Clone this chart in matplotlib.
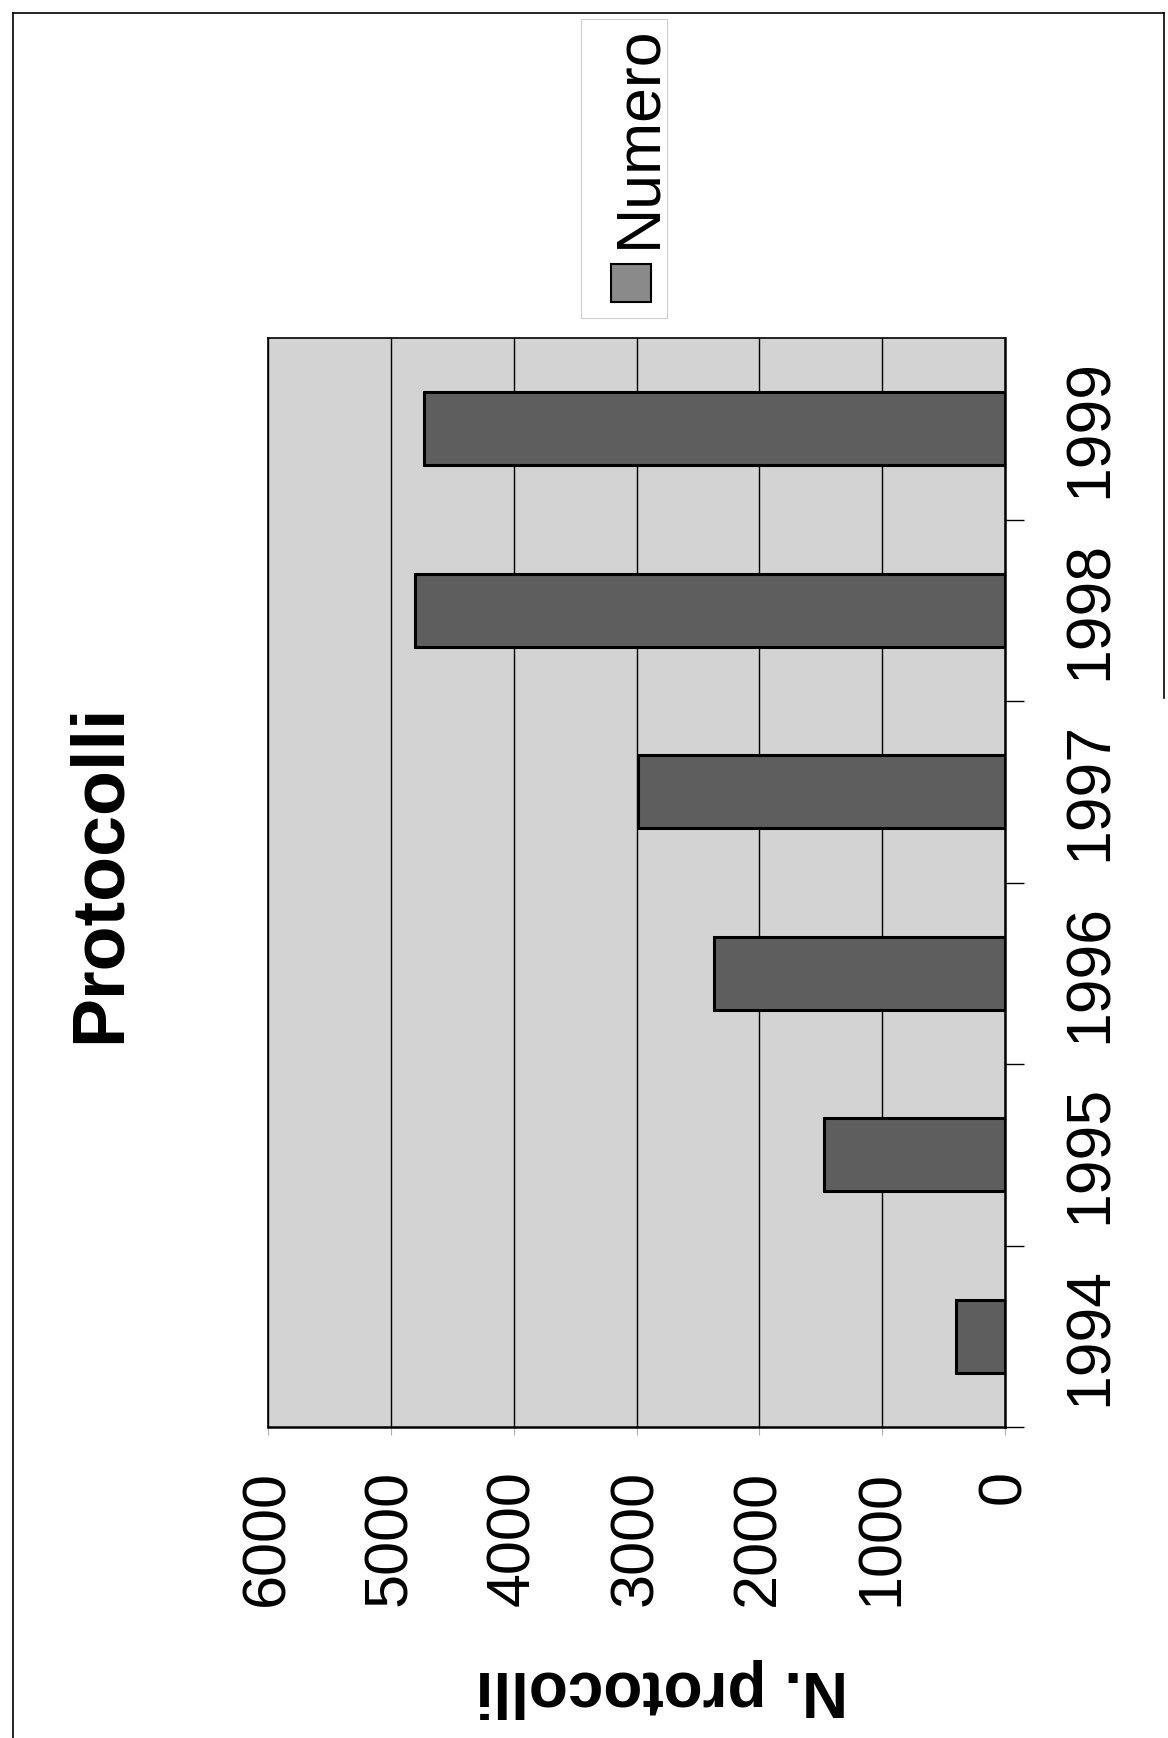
import matplotlib.pyplot as plt
from matplotlib.patches import Rectangle
from matplotlib.lines import Line2D

# dati
anni = ['1994', '1995', '1996', '1997', '1998', '1999']
numero = [400, 1475, 2370, 2990, 4800, 4730]
valori_tick = [0, 1000, 2000, 3000, 4000, 5000, 6000]

plt.rcParams['font.family'] = ['Liberation Sans', 'DejaVu Sans']

W, H = 1168, 1738
fig = plt.figure(figsize=(W / 100, H / 100), dpi=100)


def fx(px):
    return px / W


def fy(py):
    return 1 - py / H


# the whole page is turned 90 degrees: bars grow to the left
ax = fig.add_axes([fx(268), fy(1427), fx(1005) - fx(268), fy(338) - fy(1427)])
ax.set_facecolor('#d3d3d3')
pos = list(range(len(anni)))
ax.barh(pos, numero, height=0.4, color='#5e5e5e', edgecolor='black',
        linewidth=2.2, zorder=3)
ax.set_xlim(6000, 0)
ax.set_ylim(-0.5, len(anni) - 0.5)

ax.set_xticks(valori_tick)
ax.set_xticklabels([str(v) for v in valori_tick], rotation=90, fontsize=44)
ax.grid(axis='x', color='black', linewidth=1.0, zorder=1)
ax.tick_params(axis='x', length=6, width=0.8, color='#b0b0b0', pad=25)

ax.yaxis.tick_right()
ax.set_yticks([p - 0.5 for p in pos])
ax.set_yticklabels([])
ax.set_yticks(pos, minor=True)
ax.set_yticklabels(anni, minor=True, rotation=90, fontsize=45, va='center')
ax.tick_params(axis='y', which='major', length=14, width=1.0,
               right=True, left=False)
ax.tick_params(axis='y', which='minor', length=0, pad=40,
               right=True, left=False)

for s in ax.spines.values():
    s.set_color('black')
    s.set_linewidth(1.2)
ax.spines['right'].set_linewidth(1.8)
ax.spines['bottom'].set_linewidth(1.8)

# titolo e etichetta asse
fig.text(fx(100), fy(873), 'Protocolli', rotation=90, fontsize=53,
         fontweight='bold', ha='center', va='center')
fig.text(fx(662), fy(1688), 'N. protocolli', rotation=180, fontsize=46,
         fontweight='bold', ha='center', va='center')

# legenda
fig.patches.append(Rectangle((fx(581), fy(318)), fx(667) - fx(581),
                             fy(19) - fy(318), transform=fig.transFigure,
                             facecolor='none', edgecolor='#cfcfcf',
                             linewidth=0.8))
fig.patches.append(Rectangle((fx(611), fy(302)), fx(651) - fx(611),
                             fy(264) - fy(302), transform=fig.transFigure,
                             facecolor='#8a8a8a', edgecolor='black',
                             linewidth=1.5))
fig.text(fx(655), fy(248), 'Numero', rotation=90, rotation_mode='anchor',
         fontsize=45, ha='left', va='baseline')

# bordo della pagina
for xs, ys in [([13, 13], [13, H]), ([13, 1164], [13, 13]),
               ([1164, 1164], [13, 698])]:
    fig.lines.append(Line2D([fx(x) for x in xs], [fy(y) for y in ys],
                            transform=fig.transFigure, color='black',
                            linewidth=1.2))

fig.savefig('out.png', dpi=100)
